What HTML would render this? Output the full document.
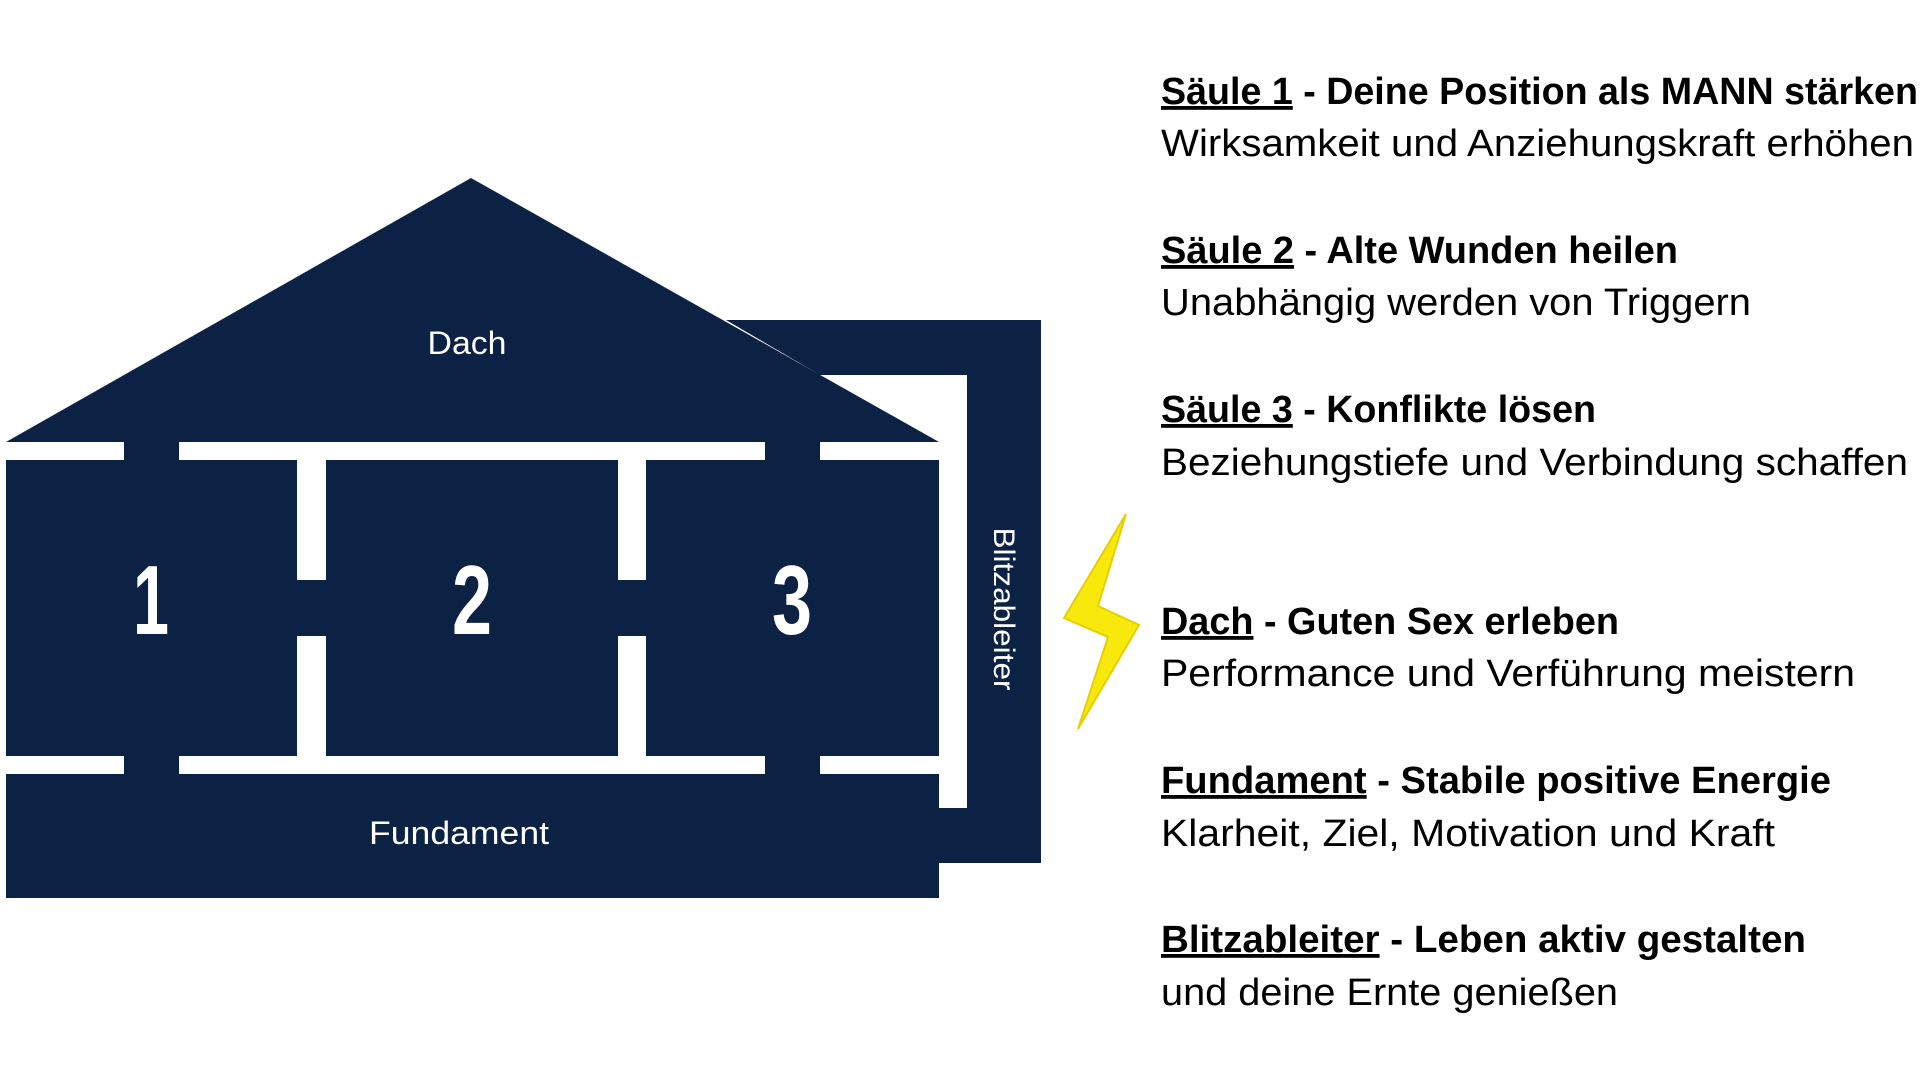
<!DOCTYPE html>
<html><head><meta charset="utf-8"><style>
html,body{margin:0;padding:0;background:#fff;width:1920px;height:1080px;overflow:hidden}
svg{display:block}
.h{font-family:"Liberation Sans",sans-serif;font-weight:bold;font-size:38px;fill:#000}
.s{font-family:"Liberation Sans",sans-serif;font-size:38px;fill:#000}
.w{font-family:"Liberation Sans",sans-serif;fill:#fff}
</style></head><body>
<svg width="1920" height="1080" viewBox="0 0 1920 1080">
<g fill="#0c2245">
  <path d="M726,320 L1041,320 L1041,863 L939,863 L939,808 L967,808 L967,375 L820,375 Z"/>
  <polygon points="471,178 939,442 6,442"/>
  <rect x="124" y="440" width="55" height="22"/>
  <rect x="765" y="440" width="55" height="22"/>
  <rect x="124" y="754" width="55" height="22"/>
  <rect x="765" y="754" width="55" height="22"/>
  <rect x="296" y="580" width="31" height="56"/>
  <rect x="617" y="580" width="31" height="56"/>
  <rect x="6" y="460" width="291" height="296"/>
  <rect x="326" y="460" width="292" height="296"/>
  <rect x="646" y="460" width="293" height="296"/>
  <rect x="6" y="774" width="933" height="124"/>
</g>
<text class="w" x="467" y="354" font-size="32" text-anchor="middle" textLength="79" lengthAdjust="spacingAndGlyphs">Dach</text>
<text class="w" x="459" y="844" font-size="32" text-anchor="middle" textLength="180" lengthAdjust="spacingAndGlyphs">Fundament</text>
<text class="w" x="151" y="634" font-size="98" font-weight="bold" text-anchor="middle" textLength="36" lengthAdjust="spacingAndGlyphs">1</text>
<text class="w" x="472" y="634" font-size="98" font-weight="bold" text-anchor="middle" textLength="40" lengthAdjust="spacingAndGlyphs">2</text>
<text class="w" x="792" y="634" font-size="98" font-weight="bold" text-anchor="middle" textLength="40" lengthAdjust="spacingAndGlyphs">3</text>
<text class="w" font-size="30" text-anchor="middle" transform="translate(994,609) rotate(90)" textLength="163" lengthAdjust="spacingAndGlyphs">Blitzableiter</text>
<polygon points="1126,514 1064,618 1108,637 1078,729 1139,625 1098,606" fill="#f8e80c" stroke="#e6cf00" stroke-width="2"/>
<text class="h" x="1161" y="104" textLength="757" lengthAdjust="spacingAndGlyphs"><tspan text-decoration="underline">Säule 1</tspan> - Deine Position als MANN stärken</text>
<text class="s" x="1161" y="156" textLength="753" lengthAdjust="spacingAndGlyphs">Wirksamkeit und Anziehungskraft erhöhen</text>
<text class="h" x="1161" y="263" textLength="517" lengthAdjust="spacingAndGlyphs"><tspan text-decoration="underline">Säule 2</tspan> - Alte Wunden heilen</text>
<text class="s" x="1161" y="315" textLength="590" lengthAdjust="spacingAndGlyphs">Unabhängig werden von Triggern</text>
<text class="h" x="1161" y="422" textLength="435" lengthAdjust="spacingAndGlyphs"><tspan text-decoration="underline">Säule 3</tspan> - Konflikte lösen</text>
<text class="s" x="1161" y="475" textLength="747" lengthAdjust="spacingAndGlyphs">Beziehungstiefe und Verbindung schaffen</text>
<text class="h" x="1161" y="634" textLength="458" lengthAdjust="spacingAndGlyphs"><tspan text-decoration="underline">Dach</tspan> - Guten Sex erleben</text>
<text class="s" x="1161" y="686" textLength="694" lengthAdjust="spacingAndGlyphs">Performance und Verführung meistern</text>
<text class="h" x="1161" y="793" textLength="670" lengthAdjust="spacingAndGlyphs"><tspan text-decoration="underline">Fundament</tspan> - Stabile positive Energie</text>
<text class="s" x="1161" y="846" textLength="614" lengthAdjust="spacingAndGlyphs">Klarheit, Ziel, Motivation und Kraft</text>
<text class="h" x="1161" y="952" textLength="645" lengthAdjust="spacingAndGlyphs"><tspan text-decoration="underline">Blitzableiter</tspan> - Leben aktiv gestalten</text>
<text class="s" x="1161" y="1005" textLength="457" lengthAdjust="spacingAndGlyphs">und deine Ernte genießen</text>
</svg>
</body></html>
